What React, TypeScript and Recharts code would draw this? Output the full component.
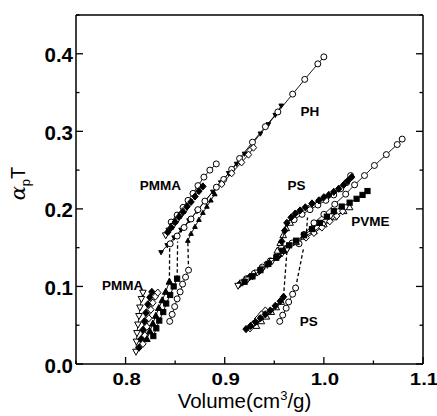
import React from 'react';
import { ScatterChart, Scatter, XAxis, YAxis, Label } from 'recharts';

type Pt = [number, number];

// axis ticks
const xTicks = [0.75, 0.8, 0.85, 0.9, 0.95, 1.0, 1.05, 1.1];
const xMajor = [0.8, 0.9, 1.0, 1.1];
const yTicks = [0, 0.05, 0.1, 0.15, 0.2, 0.25, 0.3, 0.35, 0.4, 0.45];
const yMajor = [0, 0.1, 0.2, 0.3, 0.4];

// PMMA glass isobars [volume, alpha_p*T]
const pmmaGlass1: Pt[] = [[0.8105, 0.016], [0.811, 0.029], [0.8115, 0.04], [0.8125, 0.051], [0.8135, 0.062], [0.8145, 0.073], [0.816, 0.084], [0.8175, 0.092]];
const pmmaGlass2: Pt[] = [[0.8135, 0.021], [0.8155, 0.032], [0.8175, 0.044], [0.819, 0.055], [0.8205, 0.066], [0.8225, 0.077], [0.8245, 0.086], [0.8265, 0.093]];
const pmmaGlass3: Pt[] = [[0.8175, 0.026], [0.8195, 0.037], [0.8215, 0.048], [0.8235, 0.059], [0.8255, 0.07], [0.8275, 0.079], [0.83, 0.087], [0.8325, 0.092]];
const pmmaGlass4: Pt[] = [[0.8215, 0.032], [0.8245, 0.042], [0.8275, 0.052], [0.8305, 0.062], [0.8335, 0.072], [0.837, 0.082], [0.8405, 0.093], [0.8442, 0.106]];
const pmmaGlass5: Pt[] = [[0.828, 0.036], [0.831, 0.046], [0.834, 0.056], [0.838, 0.067], [0.841, 0.078], [0.845, 0.089], [0.8485, 0.1], [0.852, 0.11]];
const pmmaGlass6: Pt[] = [[0.8445, 0.055], [0.847, 0.064], [0.8495, 0.074], [0.852, 0.084], [0.855, 0.093], [0.8575, 0.103], [0.8605, 0.112], [0.8635, 0.121]];

// PMMA glass -> melt jumps
const pmmaJump1: Pt[] = [[0.8442, 0.106], [0.8445, 0.155]];
const pmmaJump2: Pt[] = [[0.852, 0.11], [0.8525, 0.158]];
const pmmaJump3: Pt[] = [[0.8635, 0.121], [0.8628, 0.159]];

// PMMA melt
const pmmaMelt1: Pt[] = [[0.8405, 0.166], [0.844, 0.172], [0.848, 0.178], [0.852, 0.185], [0.856, 0.192], [0.86, 0.198]];
const pmmaMelt2: Pt[] = [[0.8425, 0.17], [0.846, 0.176], [0.85, 0.183], [0.854, 0.19], [0.858, 0.196], [0.862, 0.203], [0.866, 0.209], [0.87, 0.216], [0.874, 0.223], [0.878, 0.229]];
const pmmaMelt3: Pt[] = [[0.846, 0.183], [0.852, 0.192], [0.858, 0.202], [0.863, 0.211], [0.868, 0.22], [0.873, 0.23], [0.879, 0.241], [0.885, 0.25], [0.8915, 0.258]];
const pmmaMelt4: Pt[] = [[0.8628, 0.159], [0.866, 0.168], [0.87, 0.177], [0.874, 0.186], [0.878, 0.195], [0.882, 0.203], [0.886, 0.211], [0.89, 0.219]];

// PH
const phTri: Pt[] = [[0.8358, 0.144], [0.842, 0.153], [0.849, 0.163], [0.856, 0.173], [0.864, 0.185], [0.872, 0.197], [0.88, 0.21], [0.888, 0.222], [0.896, 0.234], [0.904, 0.246], [0.912, 0.258], [0.92, 0.271], [0.928, 0.284], [0.936, 0.297], [0.944, 0.309], [0.951, 0.321], [0.957, 0.333]];
const phCircle: Pt[] = [[0.845, 0.155], [0.852, 0.165], [0.859, 0.176], [0.866, 0.187], [0.873, 0.199], [0.88, 0.21], [0.8916, 0.228], [0.899, 0.238], [0.907, 0.251], [0.915, 0.265], [0.928, 0.286], [0.941, 0.306], [0.9536, 0.325], [0.9685, 0.348], [0.9807, 0.367], [0.9939, 0.387], [1.0, 0.396]];
const phDiamond: Pt[] = [[0.897, 0.232], [0.907, 0.246], [0.917, 0.26], [0.924, 0.27], [0.929, 0.279]];

// PS / PVME melt, low-volume band
const psBand1: Pt[] = [[0.9135, 0.101], [0.918, 0.105], [0.923, 0.109], [0.928, 0.113], [0.933, 0.118], [0.938, 0.123], [0.943, 0.128], [0.948, 0.133], [0.953, 0.138], [0.958, 0.143], [0.963, 0.148]];
const psBand2: Pt[] = [[0.922, 0.11], [0.93, 0.117], [0.938, 0.125], [0.946, 0.133], [0.954, 0.141], [0.962, 0.149], [0.968, 0.156]];
const psBand3: Pt[] = [[0.915, 0.103], [0.925, 0.112], [0.935, 0.12], [0.945, 0.13], [0.955, 0.14], [0.961, 0.147]];

// PVME
const pvmeFilled: Pt[] = [[0.92, 0.106], [0.928, 0.113], [0.936, 0.121], [0.944, 0.129], [0.952, 0.137], [0.958, 0.146], [0.965, 0.153], [0.972, 0.159], [0.98, 0.166], [0.988, 0.174], [0.996, 0.182], [1.003, 0.19], [1.01, 0.197], [1.018, 0.203], [1.026, 0.208], [1.033, 0.213], [1.039, 0.218], [1.044, 0.223]];
const pvmeDiamond: Pt[] = [[0.982, 0.163], [0.99, 0.169], [0.998, 0.176], [1.006, 0.184], [1.013, 0.191], [1.019, 0.197]];
const pvmeTri: Pt[] = [[0.972, 0.157], [0.98, 0.164], [0.99, 0.171], [1.0, 0.18], [1.01, 0.189], [1.02, 0.197], [1.026, 0.202]];

// PS melt, upper branch
const psUpper1: Pt[] = [[0.9575, 0.158], [0.9605, 0.172], [0.9627, 0.182], [0.967, 0.189], [0.9711, 0.194], [0.976, 0.198], [0.9813, 0.202], [0.988, 0.207], [0.995, 0.211], [1.0, 0.215], [1.005, 0.218], [1.01, 0.222], [1.015, 0.226], [1.02, 0.231], [1.024, 0.236], [1.028, 0.241]];
const psUpper2: Pt[] = [[0.97, 0.186], [0.978, 0.193], [0.986, 0.199], [0.994, 0.205], [1.002, 0.211], [1.01, 0.218], [1.017, 0.226], [1.023, 0.234], [1.027, 0.243]];
const psUpper3: Pt[] = [[0.953, 0.146], [0.956, 0.156], [0.959, 0.166], [0.962, 0.175], [0.966, 0.182]];
const psLong: Pt[] = [[0.975, 0.155], [0.98, 0.167], [0.99, 0.182], [1.0, 0.193], [1.011, 0.206], [1.022, 0.219], [1.031, 0.231], [1.041, 0.243], [1.051, 0.256], [1.063, 0.27], [1.074, 0.283], [1.079, 0.29]];

// PS glass -> melt jumps
const psJump1: Pt[] = [[0.9593, 0.0866], [0.9627, 0.1444]];
const psJump2: Pt[] = [[0.9715, 0.098], [0.9797, 0.1505]];
const psJump3: Pt[] = [[0.9825, 0.17], [0.9835, 0.189]];

// PS glass
const psGlass1: Pt[] = [[0.9215, 0.045], [0.926, 0.049], [0.931, 0.054], [0.936, 0.059], [0.941, 0.064], [0.946, 0.069], [0.951, 0.075], [0.956, 0.081], [0.9593, 0.0866]];
const psGlass2: Pt[] = [[0.9255, 0.046], [0.929, 0.052], [0.933, 0.058], [0.937, 0.064], [0.941, 0.069]];
const psGlass3: Pt[] = [[0.932, 0.049], [0.937, 0.055], [0.942, 0.061], [0.947, 0.067], [0.952, 0.073], [0.957, 0.08]];
const psGlass4: Pt[] = [[0.9555, 0.055], [0.9585, 0.063], [0.962, 0.072], [0.9645, 0.08], [0.9685, 0.09], [0.9715, 0.098]];

// text labels inside the plot
const labelText = ['PH', 'PMMA', 'PS', 'PVME', 'PMMA', 'PS'];
const labelAt: Pt[] = [[0.986, 0.326], [0.835, 0.23], [0.9725, 0.23], [1.047, 0.184], [0.797, 0.1016], [0.9847, 0.0544]];

type Series = { data: Pt[]; mark: string; dashed?: boolean; small?: boolean };

const SERIES: Series[] = [
  { data: pmmaJump1, mark: '', dashed: true },
  { data: pmmaJump2, mark: '', dashed: true },
  { data: pmmaJump3, mark: '', dashed: true },
  { data: psJump1, mark: '', dashed: true },
  { data: psJump2, mark: '', dashed: true },
  { data: psJump3, mark: '', dashed: true },
  { data: pmmaGlass1, mark: 'otd' },
  { data: pmmaGlass2, mark: 'fd' },
  { data: pmmaGlass3, mark: 'od' },
  { data: pmmaGlass4, mark: 'ft' },
  { data: pmmaGlass5, mark: 'fs' },
  { data: pmmaGlass6, mark: 'oc' },
  { data: phTri, mark: 'ftd', small: true },
  { data: phCircle, mark: 'oc' },
  { data: phDiamond, mark: 'od' },
  { data: pmmaMelt3, mark: 'oc' },
  { data: pmmaMelt1, mark: 'otd' },
  { data: pmmaMelt2, mark: 'fd' },
  { data: pmmaMelt4, mark: 'ft', small: true },
  { data: psBand2, mark: 'oc' },
  { data: psBand3, mark: 'fd' },
  { data: psBand1, mark: 'otd' },
  { data: psLong, mark: 'oc' },
  { data: pvmeTri, mark: 'ot' },
  { data: pvmeDiamond, mark: 'od' },
  { data: pvmeFilled, mark: 'fs' },
  { data: psUpper3, mark: 'ot' },
  { data: psUpper2, mark: 'oc' },
  { data: psUpper1, mark: 'fd' },
  { data: psGlass4, mark: 'oc' },
  { data: psGlass2, mark: 'od' },
  { data: psGlass3, mark: 'ot' },
  { data: psGlass1, mark: 'fd' },
];

const FONT = '"Liberation Sans", Arial, Helvetica, sans-serif';
const toRows = (pts: Pt[]) => pts.map(([v, a]) => ({ v, a }));
const isIn = (list: number[], v: number) => list.some((m) => Math.abs(m - v) < 1e-6);

function markShape(kind: string, k = 1) {
  return (p: any) => {
    const { cx, cy } = p;
    if (cx == null || cy == null) return <g />;
    const fill = kind[0] === 'f' ? '#000' : '#fff';
    const common = { fill, stroke: '#000', strokeWidth: 1 };
    const t = kind.slice(1);
    if (t === 'c') return <circle cx={cx} cy={cy} r={3 * k} {...common} />;
    if (t === 's') return <rect x={cx - 2.6 * k} y={cy - 2.6 * k} width={5.2 * k} height={5.2 * k} {...common} />;
    if (t === 'd')
      return <polygon points={`${cx},${cy - 3.6 * k} ${cx + 3.2 * k},${cy} ${cx},${cy + 3.6 * k} ${cx - 3.2 * k},${cy}`} {...common} />;
    if (t === 't')
      return <polygon points={`${cx},${cy - 3.6 * k} ${cx + 3.3 * k},${cy + 2.4 * k} ${cx - 3.3 * k},${cy + 2.4 * k}`} {...common} />;
    if (t === 'td')
      return <polygon points={`${cx},${cy + 3.6 * k} ${cx + 3.3 * k},${cy - 2.4 * k} ${cx - 3.3 * k},${cy - 2.4 * k}`} {...common} />;
    return <g />;
  };
}

const noMark = () => <g />;

function labelShape(p: any) {
  const i = p.payload?.i ?? 0;
  return (
    <text x={p.cx} y={p.cy} textAnchor="middle" dominantBaseline="central" fontFamily={FONT} fontWeight="bold" fontSize={13.5} fill="#000">
      {labelText[i]}
    </text>
  );
}

function BottomTick({ x, y, payload }: any) {
  const v = payload.value;
  const major = isIn(xMajor, v);
  return (
    <g>
      <line x1={x} x2={x} y1={y} y2={y - (major ? 7 : 3.5)} stroke="#000" strokeWidth={1.3} />
      {major && (
        <text transform={`translate(${x + 1},${y + 21}) scale(1.2,1)`} textAnchor="middle" fontFamily={FONT} fontWeight="bold" fontSize={17} fill="#000">
          {v.toFixed(1)}
        </text>
      )}
    </g>
  );
}

function TopTick({ x, y, payload }: any) {
  const major = isIn(xMajor, payload.value);
  return <line x1={x} x2={x} y1={y} y2={y + (major ? 7 : 3.5)} stroke="#000" strokeWidth={1.3} />;
}

function LeftTick({ x, y, payload }: any) {
  const v = payload.value;
  const major = isIn(yMajor, v);
  return (
    <g>
      <line x1={x} x2={x + (major ? 7 : 3.5)} y1={y} y2={y} stroke="#000" strokeWidth={1.3} />
      {major && (
        <text x={x - 3} y={y + 1} textAnchor="end" dominantBaseline="central" fontFamily={FONT} fontWeight="bold" fontSize={20.5} fill="#000">
          {v.toFixed(1)}
        </text>
      )}
    </g>
  );
}

function RightTick({ x, y, payload }: any) {
  const major = isIn(yMajor, payload.value);
  return <line x1={x} x2={x - (major ? 7 : 3.5)} y1={y} y2={y} stroke="#000" strokeWidth={1.3} />;
}

function XTitle(props: any) {
  const vb = props.viewBox || { x: 76, y: 364, width: 347 };
  const cx = vb.x + vb.width / 2 - 5;
  const by = vb.y + 44;
  return (
    <text x={cx} y={by} textAnchor="middle" fontFamily={FONT} fontSize={20.5} fill="#000">
      Volume(cm<tspan dy={-8} fontSize={13}>3</tspan>
      <tspan dy={8}>/g)</tspan>
    </text>
  );
}

function YTitle(props: any) {
  const vb = props.viewBox || { x: 0, y: 15, height: 349 };
  const cx = vb.x + 25;
  const cy = vb.y + vb.height / 2 - 6;
  return (
    <text x={cx} y={cy} transform={`rotate(-90 ${cx} ${cy})`} textAnchor="middle" fontFamily={FONT} fontSize={20} fill="#000">
      <tspan fontFamily='"DejaVu Serif", "Liberation Serif", serif' fontStyle="italic" fontSize={21}>α</tspan>
      <tspan dy={5} fontSize={13}>p</tspan>
      <tspan dy={-5}>T</tspan>
    </text>
  );
}

const axisLine = { stroke: '#000', strokeWidth: 1.5 };

export default function App() {
  const labelRows = labelAt.map(([v, a], i) => ({ v, a, i }));
  return (
    <div style={{ position: 'absolute', left: 0, top: 0, background: '#fff' }}>
      <ScatterChart width={437} height={416} margin={{ top: 0, right: 0, bottom: 0, left: 0 }}>
        <XAxis
          dataKey="v"
          type="number"
          domain={[0.75, 1.1]}
          allowDataOverflow
          ticks={xTicks}
          interval={0}
          tick={BottomTick}
          tickLine={false}
          tickSize={0}
          tickMargin={0}
          height={52}
          axisLine={axisLine}
        >
          <Label content={XTitle} />
        </XAxis>
        <XAxis
          xAxisId="top"
          orientation="top"
          type="number"
          domain={[0.75, 1.1]}
          allowDataOverflow
          ticks={xTicks}
          interval={0}
          tick={TopTick}
          tickLine={false}
          tickSize={0}
          tickMargin={0}
          height={15}
          axisLine={axisLine}
        />
        <YAxis
          dataKey="a"
          type="number"
          domain={[0, 0.45]}
          allowDataOverflow
          ticks={yTicks}
          interval={0}
          tick={LeftTick}
          tickLine={false}
          tickSize={0}
          tickMargin={0}
          width={76}
          axisLine={axisLine}
        >
          <Label content={YTitle} />
        </YAxis>
        <YAxis
          yAxisId="right"
          orientation="right"
          type="number"
          domain={[0, 0.45]}
          allowDataOverflow
          ticks={yTicks}
          interval={0}
          tick={RightTick}
          tickLine={false}
          tickSize={0}
          tickMargin={0}
          width={14}
          axisLine={axisLine}
        />
        {SERIES.map((s, i) => (
          <Scatter
            key={i}
            data={toRows(s.data)}
            isAnimationActive={false}
            line={{
              stroke: '#000',
              strokeWidth: s.dashed ? 1.3 : 0.9,
              strokeDasharray: s.dashed ? '3.5 2.5' : undefined,
              fill: 'none',
            }}
            lineType="joint"
            shape={s.dashed ? noMark : markShape(s.mark, s.small ? 0.7 : 1)}
          />
        ))}
        <Scatter data={labelRows} isAnimationActive={false} shape={labelShape} />
      </ScatterChart>
    </div>
  );
}
